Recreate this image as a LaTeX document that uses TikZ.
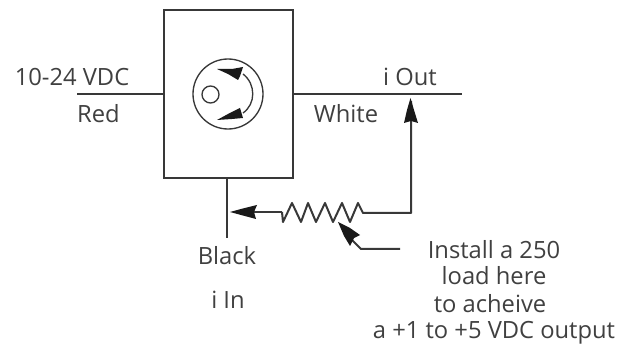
\documentclass[tikz,border=0pt]{standalone}
\usepackage{fontspec}
\setmainfont{Open Sans}
\definecolor{ink}{gray}{0.22}
\definecolor{textink}{gray}{0.25}
\tikzset{
  wire/.style={draw=ink,line width=1.5pt},
  thin part/.style={draw=ink,line width=1pt},
  head/.style={fill=black!90,draw=none},
  lab/.style={text=textink,font=\fontsize{17.8}{21}\selectfont,inner sep=0pt,anchor=base}
}
\begin{document}
\begin{tikzpicture}[x=0.75pt,y=-0.75pt]
\useasboundingbox[fill=white] (0,0) rectangle (628,345);
% box
\node[wire,minimum width=96.75pt,minimum height=126pt,inner sep=0pt] (box) at (228.5,94) {};
\coordinate (lw) at (77,94);
\coordinate (rw) at (462,94);
\coordinate (bw) at (227,238);
\draw[wire] (lw) -- (box.west |- lw);
\draw[wire] (box.east |- rw) -- (rw);
\draw[wire] (box.south -| bw) -- (bw);
% symbol
\node[thin part,circle,minimum size=52.5pt,inner sep=0pt] (disc) at (228,94) {};
\node[thin part,circle,minimum size=12.75pt,inner sep=0pt] (hole) at (210.5,94.5) {};
\draw[thin part] (243,74) .. controls (256,84) and (256,104) .. (243,113);
\fill[head] (217,69) -- (232,69) -- (243,67) -- (240,76) -- (238,80) -- (228,74) -- cycle;
\fill[head] (217,120) -- (228,114) -- (240,108) -- (243,118) -- (232,119) -- cycle;
% resistor
\coordinate (j) at (230,212);
\coordinate (up) at (411,213);
\coordinate (top) at (411,101);
\draw[wire] (282,212) -- (250,212);
\draw[wire,line join=round] (282,212) -- (283,222) -- (292,203) -- (301,222) -- (308,203) -- (316,222) -- (325,203) -- (333,222) -- (342,203) -- (350,222) -- (358,203) -- (363,213) -- (up) -- (top);
\fill[head] (j) -- (241,209) -- (257,205) -- (254,212) -- (256,219) -- (241,215) -- cycle;
\fill[head] (410.5,98) -- (414,110) -- (418,123) -- (411,121) -- (404,123) -- (407,110) -- cycle;
% pointer
\coordinate (pe) at (400,249);
\draw[wire] (pe) -- (361,249) -- (350,238);
\fill[head] (338,222) -- (350,228) -- (360,235) -- (354,238) -- (350,246) -- (344,236) -- cycle;
% labels
\node[lab] (t1) at (72,86) {10-24 VDC};
\node[lab] (t2) at (98.5,123) {Red};
\node[lab] (t3) at (346,123) {White};
\node[lab] (t4) at (410,86) {i Out};
\node[lab] (t5) at (227,265) {Black};
\node[lab] (t6) at (228,308) {i In};
\node[lab] (t7) at (494,258) {Install a 250};
\node[lab] (t8) at (494,285) {load here};
\node[lab] (t9) at (490,312) {to acheive};
\node[lab] (t10) at (494,338) {a +1 to +5 VDC output};
\end{tikzpicture}
\end{document}
